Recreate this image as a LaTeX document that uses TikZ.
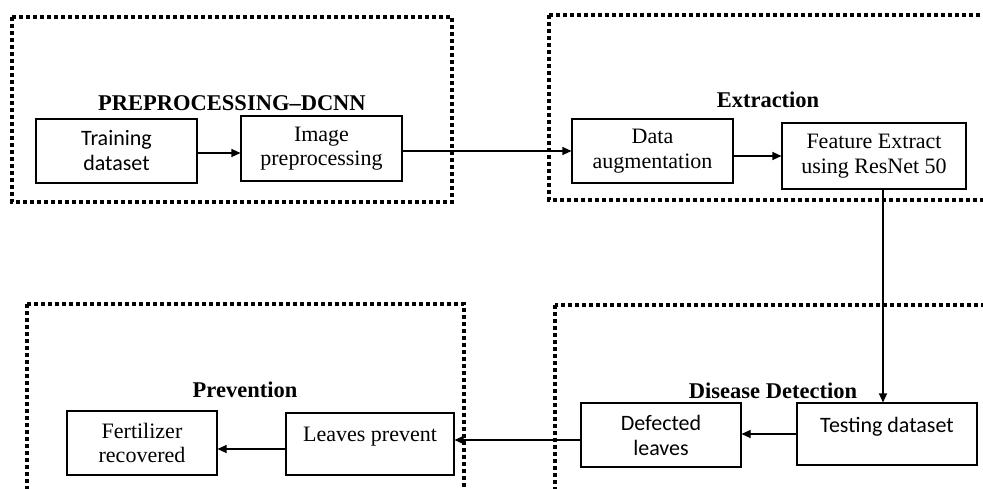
\documentclass[tikz,border=0pt]{standalone}
\usepackage{fontspec}
\setmainfont{Liberation Serif}
\newfontfamily\calfont{Carlito}
\usetikzlibrary{arrows.meta}
\tikzset{
  group/.style={line width=3.6pt, dash pattern=on 3.6pt off 3.4pt, line cap=butt},
  blk/.style={draw, line width=1.1pt, inner sep=0pt, align=center,
    font=\fontsize{22}{24.5}\selectfont},
  sblk/.style={blk, font=\calfont\fontsize{22}{25}\selectfont},
  txt/.style={inner sep=0pt, align=center},
  ttl/.style={inner sep=0pt, font=\bfseries\fontsize{22.5}{24}\selectfont},
  arr/.style={line width=1.1pt, -{Triangle[length=9pt,width=8pt]}},
  ln/.style={line width=1.1pt}
}
\begin{document}
\begin{tikzpicture}[x=1pt,y=-1pt]
\useasboundingbox (0,0) rectangle (983,488);
\clip (0,0) rectangle (983,488);
% dotted group frames
\draw[group] (12,17) rectangle (452,202);
\draw[group] (549,15) rectangle (1010,200);
\draw[group] (27,304) rectangle (464,520);
\draw[group] (555,305) rectangle (1010,520);
% titles
\node[ttl] (t1) at (232,103) {PREPROCESSING–DCNN};
\node[ttl] (t2) at (768,100) {Extraction};
\node[ttl] (t3) at (245,390) {Prevention};
\node[ttl] (t4) at (773,391) {Disease Detection};
% boxes
\node[sblk, minimum width=161pt, minimum height=64pt] (train) at (116.5,151) {Training\\dataset};
\node[blk, minimum width=161pt, minimum height=65pt] (imgpre) at (321.5,148.5) {Image\\preprocessing};
\node[blk, minimum width=161pt, minimum height=64pt] (aug) at (652.5,151) {Data\\augmentation};
\node[blk, minimum width=184pt, minimum height=66pt] (feat) at (874,156) {Feature Extract\\using ResNet 50};
\node[blk, minimum width=180pt, minimum height=62pt] (test) at (887,434) {};
\node[txt, font=\calfont\fontsize{22}{25}\selectfont] (testtxt) at ([yshift=7pt]test.center) {Testing dataset};
\node[sblk, minimum width=160pt, minimum height=64pt] (defect) at (661,435) {Defected\\leaves};
\node[blk, minimum width=168pt, minimum height=62pt] (leaves) at (370,444) {};
\node[txt, font=\fontsize{22}{24}\selectfont] (leavestxt) at ([yshift=7pt]leaves.center) {Leaves prevent};
\node[blk, minimum width=150pt, minimum height=64pt] (fert) at (142,443) {Fertilizer\\recovered};
% connectors
\draw[arr] ([yshift=-2pt]train.east) -- ([yshift=-2pt]train.east -| imgpre.west);
\draw[arr] (aug.west -| imgpre.east) -- (aug.west);
\draw[arr] (feat.west -| aug.east) -- (feat.west);
\draw[arr] ([xshift=-4pt]test.north |- feat.south) -- ([xshift=-4pt]test.north);
\draw[arr] (test.west) -- (test.west -| defect.east);
\draw[arr] ([yshift=-5pt]defect.west) -- ([yshift=-5pt]defect.west -| leaves.east);
\draw[arr] ([yshift=-5pt]leaves.west) -- ([yshift=-5pt]leaves.west -| fert.east);
\end{tikzpicture}
\end{document}
